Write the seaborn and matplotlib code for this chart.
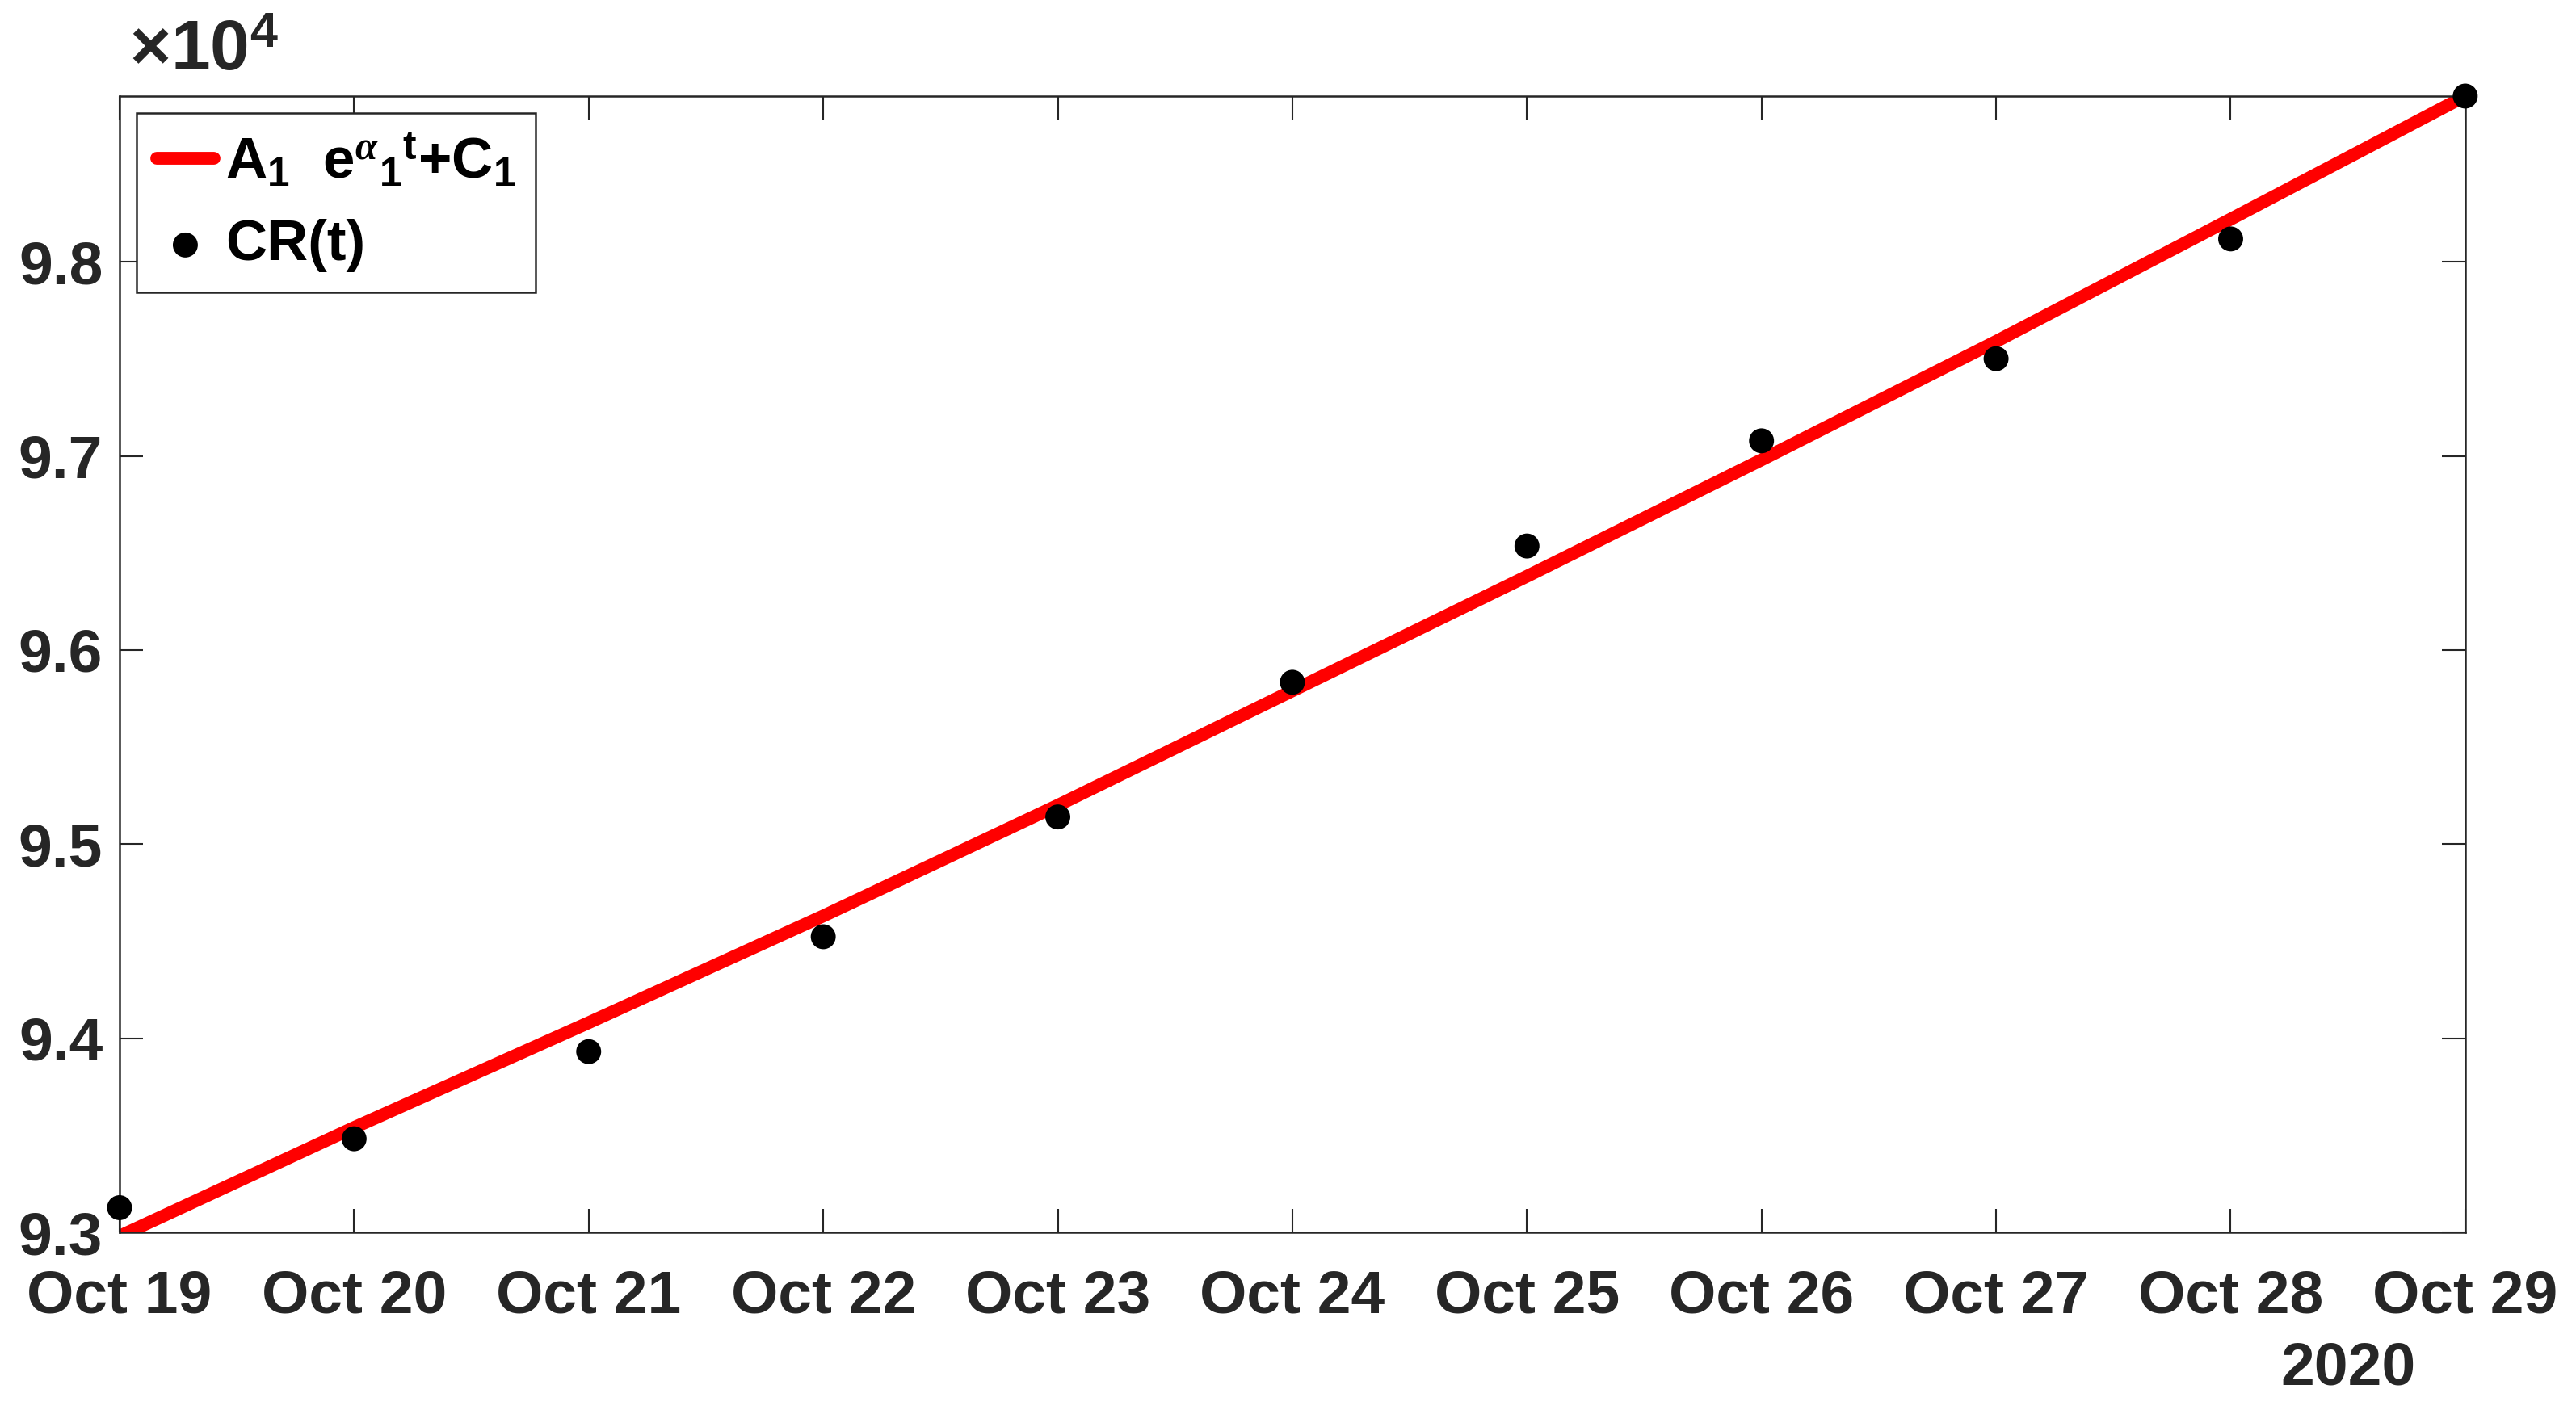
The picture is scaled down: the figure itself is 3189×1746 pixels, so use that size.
import pandas as pd
import seaborn as sns
import matplotlib.pyplot as plt
import matplotlib.dates as mdates
from matplotlib.ticker import FuncFormatter

# daily cumulative counts, Oct 19 - Oct 29 2020
dates = pd.date_range("2020-10-19", "2020-10-29", freq="D")
cases = [93127, 93482, 93931, 94523, 95140, 95834, 96536, 97078, 97501, 98118, 98854]
# fitted curve A1*exp(alpha1*t)+C1 evaluated at the same days
fit = [92980, 93540, 94080, 94630, 95200, 95790, 96380, 96980, 97590, 98220, 98854]
y_ticks = [93000, 94000, 95000, 96000, 97000, 98000]

sns.set_theme(style="ticks")
plt.rcParams["font.family"] = ["Liberation Sans", "DejaVu Sans"]
plt.rcParams["font.weight"] = "bold"
plt.rcParams["mathtext.fontset"] = "custom"
plt.rcParams["mathtext.rm"] = "Liberation Sans:bold"
plt.rcParams["mathtext.bf"] = "Liberation Sans:bold"
plt.rcParams["mathtext.it"] = "Liberation Serif:italic"

dark = "#262626"
fig = plt.figure(figsize=(3189 / 300, 1746 / 300), dpi=300)
ax = fig.add_axes([0.0464, 0.126, 0.9106, 0.806])

sns.lineplot(x=dates, y=fit, color="#ff0000", linewidth=3.8, ax=ax,
             label=r"A$_1$  e$^{\alpha}$$_1$$^{\mathrm{t}}$+C$_1$")
sns.scatterplot(x=dates, y=cases, color="black", s=55, edgecolor="none", ax=ax,
                label="CR(t)", zorder=3, clip_on=False)

ax.set_xlim(dates[0], dates[-1])
ax.set_ylim(93000, 98855)
ax.set_yticks(y_ticks)
ax.yaxis.set_major_formatter(FuncFormatter(lambda v, p: f"{v / 1e4:.1f}"))
ax.xaxis.set_major_locator(mdates.DayLocator())
ax.xaxis.set_major_formatter(mdates.DateFormatter("%b %d"))

ax.tick_params(axis="both", direction="in", length=7, width=0.5, color=dark,
               labelsize=18, labelcolor=dark, top=True, right=True)
ax.tick_params(axis="x", pad=11)
ax.tick_params(axis="y", pad=5)
for lab in ax.get_xticklabels() + ax.get_yticklabels():
    lab.set_fontweight("bold")
for sp in ax.spines.values():
    sp.set_visible(True)
    sp.set_linewidth(0.6)
    sp.set_color(dark)
ax.set_xlabel("")
ax.set_ylabel("")

ax.text(0.004, 1.01, r"$\times$10$^{4}$", transform=ax.transAxes, fontsize=21,
        color=dark, fontweight="bold", ha="left", va="bottom")
ax.text(0.95, -0.12, "2020", transform=ax.transAxes, fontsize=18, color=dark,
        fontweight="bold", ha="center", va="center")

leg = ax.legend(loc="upper left", fontsize=17, frameon=True, fancybox=False,
                edgecolor=dark, framealpha=1, borderaxespad=0.3, handlelength=1.0,
                handletextpad=0.2, borderpad=0.35, labelspacing=0.5)
leg.get_frame().set_linewidth(0.6)
for t in leg.get_texts():
    t.set_fontweight("bold")
    t.set_color("black")

fig.savefig("out.png", dpi=300, facecolor="white")
